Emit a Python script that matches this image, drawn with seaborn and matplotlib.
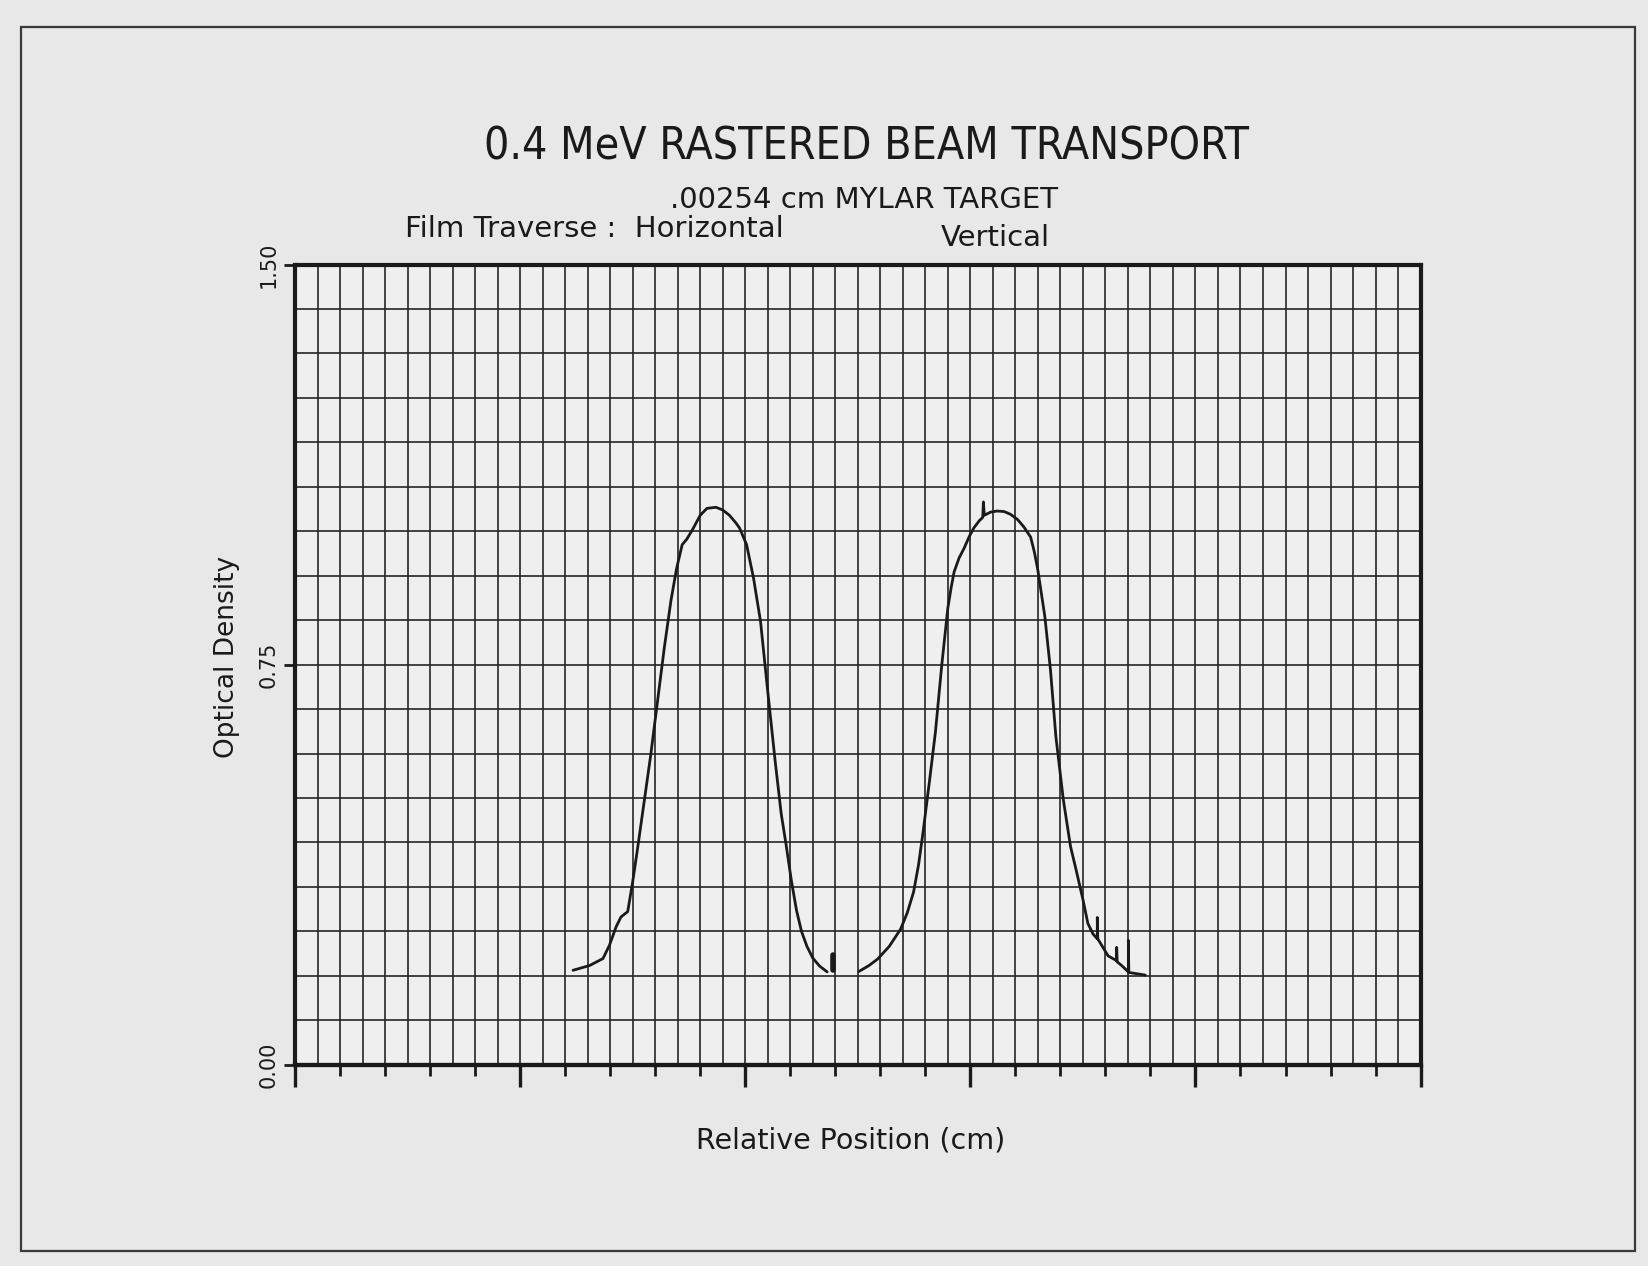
import numpy as np
import pandas as pd
import matplotlib
matplotlib.use("Agg")
import matplotlib.pyplot as plt
from matplotlib.ticker import MultipleLocator, FixedLocator
from matplotlib.patches import Rectangle
import seaborn as sns

# ---- data ----
horiz_x = [1.235, 1.309, 1.368, 1.397, 1.426, 1.448, 1.478, 1.499, 1.520, 1.550,
           1.580, 1.610, 1.640, 1.670, 1.695, 1.720, 1.740, 1.767, 1.800, 1.830,
           1.870, 1.900, 1.930, 1.960, 1.975, 2.006, 2.037, 2.068, 2.100, 2.133,
           2.160, 2.181, 2.205, 2.228, 2.250, 2.274, 2.300, 2.330, 2.364]
horiz_y = [0.177, 0.186, 0.199, 0.224, 0.258, 0.277, 0.287, 0.340, 0.400, 0.490,
           0.580, 0.680, 0.780, 0.870, 0.930, 0.975, 0.985, 1.004, 1.030, 1.043,
           1.045, 1.040, 1.030, 1.015, 1.006, 0.975, 0.912, 0.831, 0.700, 0.569,
           0.470, 0.414, 0.345, 0.289, 0.250, 0.222, 0.200, 0.185, 0.174]

blob_x = [2.391, 2.391]
blob_y = [0.177, 0.205]

vert_x = [2.506, 2.550, 2.588, 2.640, 2.690, 2.720, 2.748, 2.770, 2.790, 2.818,
          2.845, 2.873, 2.900, 2.915, 2.928, 2.950, 2.972, 2.995, 3.015, 3.040,
          3.055, 3.058, 3.062, 3.090, 3.119, 3.150, 3.178, 3.210, 3.238, 3.268,
          3.285, 3.300, 3.331, 3.356, 3.380, 3.413, 3.445, 3.470, 3.500, 3.522,
          3.545, 3.564, 3.564, 3.566, 3.612, 3.650, 3.650, 3.652, 3.672, 3.702,
          3.702, 3.704, 3.777]
vert_y = [0.175, 0.186, 0.198, 0.222, 0.254, 0.285, 0.324, 0.375, 0.436, 0.530,
          0.624, 0.749, 0.856, 0.895, 0.924, 0.950, 0.968, 0.990, 1.006, 1.020,
          1.026, 1.055, 1.030, 1.036, 1.038, 1.037, 1.032, 1.022, 1.008, 0.989,
          0.960, 0.927, 0.840, 0.740, 0.615, 0.497, 0.409, 0.365, 0.310, 0.265,
          0.245, 0.236, 0.276, 0.236, 0.204, 0.195, 0.220, 0.193, 0.186, 0.174,
          0.233, 0.173, 0.168]

y_ticks = [0.0, 0.75, 1.50]
y_tick_labels = ["0.00", "0.75", "1.50"]
x_major_ticks = [0, 1, 2, 3, 4, 5]

title = "0.4 MeV RASTERED BEAM TRANSPORT"
subtitle = ".00254 cm MYLAR TARGET"
traverse_label = "Film Traverse :  Horizontal"
vertical_label = "Vertical"
x_label = "Relative Position (cm)"
y_label = "Optical Density"

df_h = pd.DataFrame({"x": horiz_x, "y": horiz_y})
df_b = pd.DataFrame({"x": blob_x, "y": blob_y})
df_v = pd.DataFrame({"x": vert_x, "y": vert_y})

sns.set_theme(style="white")
plt.rcParams["font.family"] = ["DejaVu Sans"]

ink = "#1a1a1a"
page = "#e8e8e8"

fig = plt.figure(figsize=(16.48, 12.66), dpi=100, facecolor=page)
ax = fig.add_axes([0.179, 0.159, 0.683, 0.632])
ax.set_facecolor("#efefef")

sns.lineplot(data=df_h, x="x", y="y", ax=ax, sort=False, estimator=None,
             color=ink, linewidth=2.0)
sns.lineplot(data=df_b, x="x", y="y", ax=ax, sort=False, estimator=None,
             color=ink, linewidth=4.0)
sns.lineplot(data=df_v, x="x", y="y", ax=ax, sort=False, estimator=None,
             color=ink, linewidth=2.0)

ax.set_xlim(0, 5)
ax.set_ylim(0, 1.5)

# grid
ax.xaxis.set_major_locator(MultipleLocator(0.2))
ax.xaxis.set_minor_locator(MultipleLocator(0.1))
ax.yaxis.set_major_locator(FixedLocator(y_ticks))
ax.yaxis.set_minor_locator(MultipleLocator(1 / 12))
ax.grid(True, which="both", color="#262626", linewidth=1.2)
ax.set_axisbelow(True)

ax.tick_params(axis="x", which="major", length=8, width=2, color=ink,
               direction="out", bottom=True, labelbottom=False)
ax.tick_params(axis="x", which="minor", length=0)
ax.tick_params(axis="y", which="major", length=8, width=2, color=ink,
               direction="out", left=True, labelsize=15, labelcolor=ink, pad=4)
ax.tick_params(axis="y", which="minor", length=0)
ax.set_yticklabels(y_tick_labels, rotation=90, va="center")

sec = ax.secondary_xaxis("bottom")
sec.set_xticks(x_major_ticks)
sec.tick_params(length=16, width=2.4, color=ink, direction="out", labelbottom=False)
sec.spines["bottom"].set_linewidth(3)
sec.spines["bottom"].set_color(ink)

for s in ax.spines.values():
    s.set_visible(True)
    s.set_color(ink)
    s.set_linewidth(3)

ax.set_xlabel(x_label, fontsize=20.5, color=ink)
ax.xaxis.set_label_coords(0.494, -0.0775)
ax.set_ylabel(y_label, fontsize=19, color=ink)
ax.yaxis.set_label_coords(-0.049, 0.51)

fig.text(0.526, 0.884, title, fontsize=32, fontstretch="condensed", color=ink,
         ha="center", va="center")
fig.text(0.524, 0.842, subtitle, fontsize=21, color=ink, ha="center", va="center")
fig.text(0.246, 0.819, traverse_label, fontsize=21, color=ink, ha="left", va="center")
fig.text(0.571, 0.812, vertical_label, fontsize=21, color=ink, ha="left", va="center")

# page frame
fig.patches.append(Rectangle((0.013, 0.012), 0.979, 0.967, transform=fig.transFigure,
                             fill=False, edgecolor="#3a3a3a", linewidth=1.6))

fig.savefig("out.png", dpi=100, facecolor=page)
